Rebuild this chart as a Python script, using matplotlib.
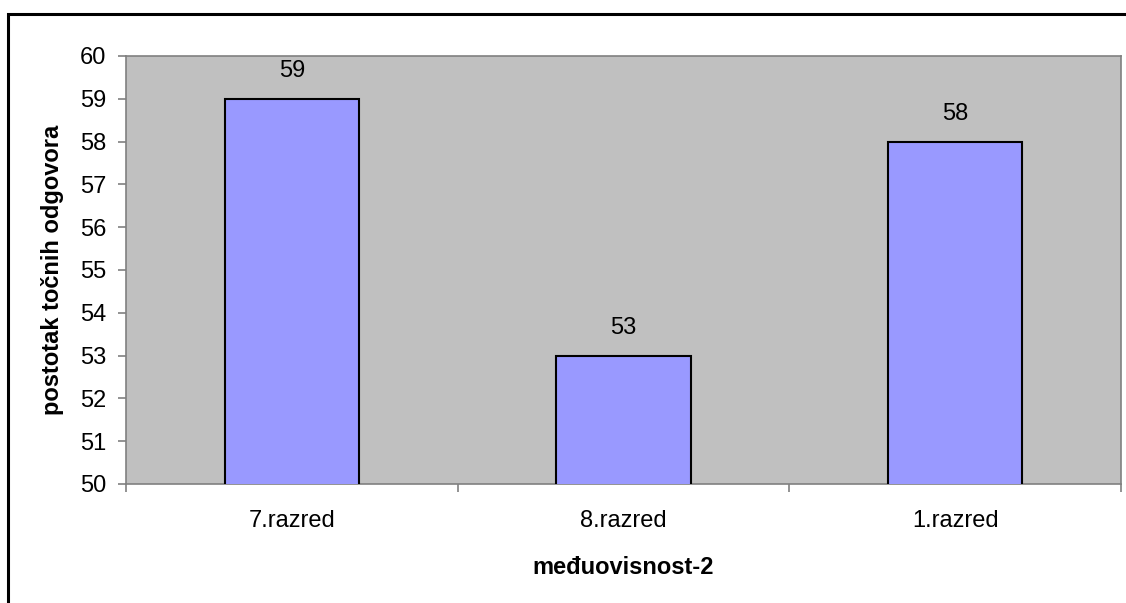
import matplotlib.pyplot as plt
from matplotlib.patches import Rectangle

plt.rcParams['font.family'] = ['Liberation Sans', 'DejaVu Sans']

razredi = ['7.razred', '8.razred', '1.razred']
postotci = [59, 53, 58]
y_ticks = list(range(50, 61))

fig = plt.figure(figsize=(11.26, 6.03), dpi=100)
ax = fig.add_axes([126 / 1126, 1 - 484 / 603, (1121 - 126) / 1126, (484 - 56) / 603])

# okvir oko cijelog grafa (desno i dolje odrezan)
fig.patches.append(Rectangle((8 / 1126, -0.1), 1.2, 1 - 14 / 603 + 0.1,
                             transform=fig.transFigure, fill=False,
                             edgecolor='black', linewidth=2.2))

x = list(range(len(razredi)))
ax.bar(x, postotci, width=0.405, color='#9999FF', edgecolor='black', linewidth=1.5, zorder=3)
ax.set_facecolor('#C0C0C0')
ax.set_xlim(-0.5, 2.5)
ax.set_ylim(50, 60)
ax.set_yticks(y_ticks)

fs = 17
for xi, v in zip(x, postotci):
    ax.annotate(str(v), (xi, v), xytext=(0, 20), textcoords='offset points',
                ha='center', va='center', fontsize=fs)

ax.set_xticks(x)
ax.set_xticklabels(razredi, fontsize=fs)
ax.set_xticks([-0.5, 0.5, 1.5, 2.5], minor=True)
ax.tick_params(axis='x', which='major', length=0, pad=19)
ax.tick_params(axis='x', which='minor', length=6, color='#808080', width=1.2, direction='out')
ax.tick_params(axis='y', length=6, color='#808080', width=1.2, direction='out', labelsize=fs, pad=8)

for s in ax.spines.values():
    s.set_color('#808080')
    s.set_linewidth(1.2)

ax.set_ylabel('postotak točnih odgovora', fontsize=fs, fontweight='bold', labelpad=12)
ax.set_xlabel('međuovisnost-2', fontsize=fs, fontweight='bold', labelpad=17)

fig.savefig('out.png', dpi=100)
